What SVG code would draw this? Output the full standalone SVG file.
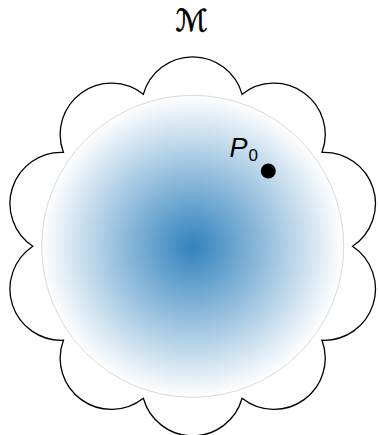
<svg xmlns="http://www.w3.org/2000/svg" width="378" height="435" viewBox="0 0 378 435">
  <style>
    .flower { fill: none; stroke: #000; stroke-width: 1.3; }
    .disk { fill: url(#blues); stroke: #c0c0c0; stroke-width: 0.6; }
    .lbl { font-family: "Liberation Sans", Arial, sans-serif; fill: #000; }
  </style>
  <defs>
    <radialGradient id="blues" cx="0.5" cy="0.5" r="0.5">
      <stop offset="0" stop-color="#3182bd"/>
      <stop offset="1" stop-color="#ffffff"/>
    </radialGradient>
  </defs>
  <rect width="378" height="435" fill="#fff"/>
  <g id="manifold">
    <path class="flower" d="M143.32,94.32 A51.25,51.25 0 0 1 242.08,94.32 A51.25,51.25 0 0 1 321.98,152.37 A51.25,51.25 0 0 1 352.5,246.3 A51.25,51.25 0 0 1 321.98,340.23 A51.25,51.25 0 0 1 242.08,398.28 A51.25,51.25 0 0 1 143.32,398.28 A51.25,51.25 0 0 1 63.42,340.23 A51.25,51.25 0 0 1 32.9,246.3 A51.25,51.25 0 0 1 63.42,152.37 A51.25,51.25 0 0 1 143.32,94.32 Z"/>
  </g>
  <g id="label-M">
    <text x="191.5" y="31" text-anchor="middle" font-family="'DejaVu Sans', sans-serif" font-size="30" stroke="#000" stroke-width="0.6">ℳ</text>
  </g>
  <g id="region">
    <circle class="disk" cx="192.7" cy="246.3" r="151"/>
  </g>
  <g id="point-P0">
    <circle cx="268.3" cy="171" r="7.5" fill="#000"/>
    <text class="lbl" x="229.5" y="156.5" font-size="27" font-style="italic">P</text>
    <text class="lbl" x="248.5" y="160.5" font-size="17">0</text>
  </g>
</svg>
